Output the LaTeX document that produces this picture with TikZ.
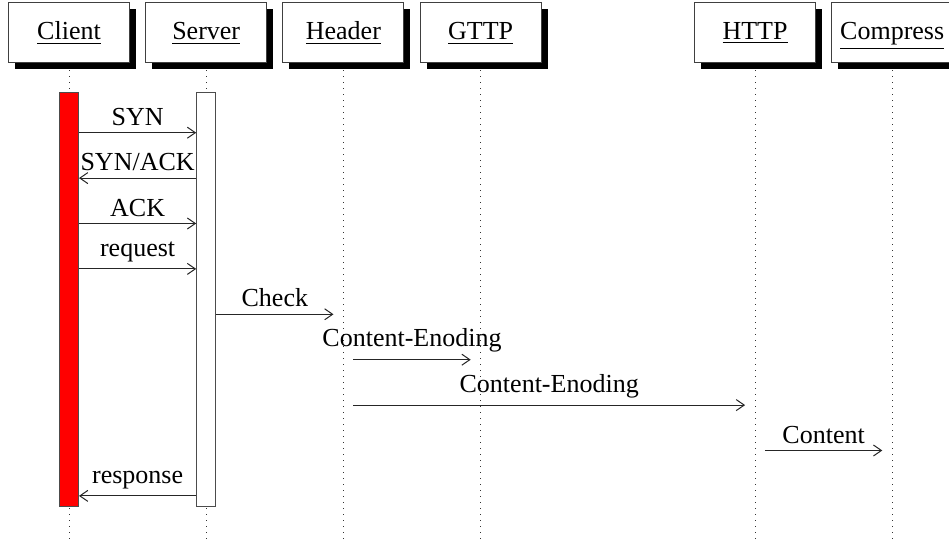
\documentclass[tikz,border=0pt]{standalone}
\usepackage{fontspec}
\setmainfont{Liberation Serif}
\usetikzlibrary{arrows.meta,shadows}

\begin{document}
\begin{tikzpicture}[x=0.5pt,y=-0.5pt,
  every node/.style={font=\fontsize{13pt}{15pt}\selectfont},
  obj/.style={draw=black!75, line width=0.5pt, fill=white,
    minimum width=60.5pt, minimum height=30pt, inner sep=0pt,
    text height=9.5pt, text depth=2.5pt,
    drop shadow={shadow xshift=3.25pt, shadow yshift=-3.25pt, opacity=1, fill=black}},
  life/.style={draw=black!80, line width=0.5pt, dash pattern=on 0.5pt off 2.5pt},
  bar/.style={draw=black!70, line width=0.5pt, minimum width=9.5pt,
    minimum height=207pt, inner sep=0pt},
  ghost/.style={draw=none, minimum width=9.5pt, minimum height=207pt, inner sep=0pt},
  msg/.style={draw=black!85, line width=0.5pt, -{Straight Barb[length=4pt,width=5.5pt]}},
]
\clip (0,0) rectangle (949,539);

% lifeline heads
\node[obj] (client)   at (69,33)    {\underline{Client}};
\node[obj] (server)   at (206.2,33) {\underline{Server}};
\node[obj] (header)   at (343.4,33) {\underline{Header}};
\node[obj] (gttp)     at (480.6,33) {\underline{GTTP}};
\node[obj] (http)     at (755,33)   {\underline{HTTP}};
\node[obj] (compress) at (892.2,33) {\underline{Compress}};

% dotted lifelines
\foreach \o in {client,server,header,gttp,http,compress}
  \draw[life] ([yshift=-3.3pt]\o.south) -- (\o.south |- 0,539);

% activation bars
\node[bar, fill=red]   (cb) at (69,300)    {};
\node[bar, fill=white] (sb) at (206.2,300) {};
\node[ghost] (hb) at (343.4,300) {};
\node[ghost] (gb) at (480.6,300) {};
\node[ghost] (pb) at (755,300)   {};
\node[ghost] (kb) at (892.2,300) {};

% message rows
\coordinate (r1) at (0,132.7);
\coordinate (r2) at (0,178.1);
\coordinate (r3) at (0,223.5);
\coordinate (r4) at (0,268.9);
\coordinate (r5) at (0,314.3);
\coordinate (r6) at (0,359.7);
\coordinate (r7) at (0,405.1);
\coordinate (r8) at (0,450.5);
\coordinate (r9) at (0,495.9);

% messages
\draw[msg] (cb.east |- r1) -- node[above] {SYN} (sb.west |- r1);
\draw[msg] (sb.west |- r2) -- node[above] {SYN/ACK} (cb.east |- r2);
\draw[msg] (cb.east |- r3) -- node[above] {ACK} (sb.west |- r3);
\draw[msg] (cb.east |- r4) -- node[above] {request} (sb.west |- r4);
\draw[msg] (sb.east |- r5) -- node[above] {Check} (hb.west |- r5);
\draw[msg] (hb.east |- r6) -- node[above] {Content-Enoding} (gb.west |- r6);
\draw[msg] (hb.east |- r7) -- node[above] {Content-Enoding} (pb.west |- r7);
\draw[msg] (pb.east |- r8) -- node[above] {Content} (kb.west |- r8);
\draw[msg] (sb.west |- r9) -- node[above] {response} (cb.east |- r9);
\end{tikzpicture}
\end{document}
